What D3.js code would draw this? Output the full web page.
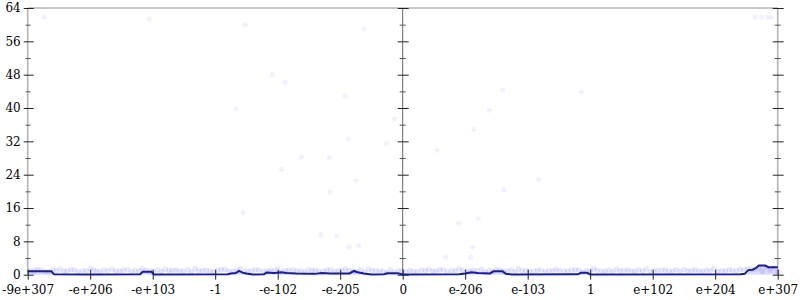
<!DOCTYPE html>
<html><head><meta charset="utf-8">
<script src="https://cdn.jsdelivr.net/npm/d3@7"></script>
<style>body{margin:0;background:#fff}svg{display:block}text{font-family:"DejaVu Serif",serif;font-size:12px;fill:#000}</style>
</head><body>
<svg id="c" width="800" height="300"></svg>
<script>
const yTicks = [0, 8, 16, 24, 32, 40, 48, 56, 64];
const xLabels = ["-9e+307","-e+206","-e+103","-1","-e-102","-e-205","0","e-206","e-103","1","e+102","e+204","e+307"];
// summary line: position (in label units) and value
const lineT = [0,0.38,0.42,1.0,1.8,1.84,1.98,2.02,3.2,3.25,3.33,3.38,3.44,3.5,3.6,3.78,3.82,3.95,4.05,4.15,4.3,4.6,4.7,4.85,5.15,5.22,5.28,5.38,5.5,5.7,5.75,5.92,6.0,6.9,7.0,7.1,7.2,7.4,7.45,7.6,7.65,7.75,8.8,8.85,8.95,9.0,11.4,11.47,11.53,11.6,11.65,11.7,11.8,11.85,12];
const lineV = [0.8,0.8,0.1,0.05,0.1,0.7,0.7,0.05,0.1,0.3,0.4,0.9,0.5,0.3,0.05,0.1,0.5,0.4,0.6,0.4,0.3,0.2,0.4,0.3,0.3,0.9,0.6,0.3,0.05,0.1,0.35,0.35,0.05,0.1,0.3,0.6,0.4,0.3,0.8,0.8,0.2,0.05,0.1,0.45,0.45,0.05,0.1,0.2,1.1,1.2,1.6,2.2,2.2,1.8,1.8];
// scattered samples
const dotT = [0.261,1.945,5.386,11.637,11.744,11.84,11.904,3.477,3.914,4.117,5.082,3.328,5.866,5.13,5.738,4.378,4.826,4.064,5.253,4.837,7.6,8.858,7.386,7.141,6.549,8.176,7.616,3.45,4.693,4.944,5.141,5.296,6.896,7.21,7.12,6.688,7.088];
const dotV = [61.8,61.4,59.0,61.8,61.8,61.8,61.8,60.0,48.0,46.2,42.9,39.8,37.4,32.6,31.5,28.2,28.1,25.3,22.6,19.8,44.3,43.8,39.5,34.8,29.9,22.9,20.4,14.9,9.6,9.3,6.6,7.0,12.4,13.4,6.6,4.2,4.2];
// dense samples near the floor
const bandT = [0.05,0.15,0.27,0.4,0.52,0.63,0.75,0.88,1.0,1.1,1.22,1.35,1.47,1.6,1.72,1.83,1.95,2.08,2.2,2.31,2.43,2.56,2.68,2.8,2.92,3.04,3.16,3.29,3.4,3.52,3.64,3.77,3.88,4.0,4.12,4.25,4.37,4.49,4.6,4.73,4.85,4.97,5.08,5.2,5.33,5.45,5.57,5.69,5.8,5.93,6.05,6.17,6.3,6.42,6.53,6.65,6.78,6.9,7.02,7.13,7.26,7.38,7.5,7.62,7.74,7.85,7.97,8.1,8.22,8.34,8.45,8.58,8.7,8.82,8.94,9.05,9.18,9.3,9.42,9.54,9.66,9.78,9.9,10.02,10.14,10.26,10.38,10.5,10.62,10.74,10.86,10.98,11.1,11.22,11.34,11.46,11.58,11.7,11.82,11.94];
const bandV = [1.0,1.3,0.8,1.1,1.4,0.9,1.2,1.0,1.5,0.8,1.1,1.3,0.9,1.2,1.0,1.4,0.8,1.1,1.3,1.0,0.9,1.2,1.4,1.0,0.8,1.1,1.3,0.9,1.5,1.0,1.2,0.8,1.1,1.4,1.0,1.2,0.9,1.3,1.1,0.8,1.2,1.0,1.4,0.9,1.1,1.3,1.0,0.8,1.2,1.0,0.6,0.8,1.1,1.3,0.9,1.2,1.0,1.4,0.8,1.1,1.3,1.0,1.2,0.9,1.1,1.4,1.0,0.8,1.2,1.0,1.3,0.9,1.1,1.2,1.0,1.4,0.8,1.1,1.3,1.0,0.9,1.2,1.4,1.0,1.1,0.8,1.2,1.3,1.0,0.9,1.1,1.4,1.0,1.2,0.9,1.1,1.3,1.6,1.8,1.7];

const svg = d3.select("#c");
const x = d3.scaleLinear().domain([0, 12]).range([27.7, 777.7]);
const y = d3.scaleLinear().domain([0, 64]).range([274.7, 8]);
const minor = d3.range(4, 64, 8);

// frame
svg.append("line").attr("x1", x(0)).attr("x2", x(12)).attr("y1", y(64)).attr("y2", y(64))
  .attr("stroke", "#b4b4b4").attr("stroke-width", 1.6);
[[0, "#b4b4b4", 1.6], [12, "#b4b4b4", 1.6], [6, "#666", 1]].forEach(([t, c, w]) => {
  svg.append("line").attr("x1", x(t)).attr("x2", x(t)).attr("y1", y(64)).attr("y2", y(0))
    .attr("stroke", c).attr("stroke-width", w);
});
// y ticks on three vertical axes
[[0, -4, 6, -2, 3], [6, -5, 6, -3, 3], [12, -5, 6, -3, 3]].forEach(([t, a, b, ma, mb]) => {
  const g = svg.append("g");
  g.selectAll(".M").data(yTicks).join("line")
    .attr("x1", x(t) + a).attr("x2", x(t) + b).attr("y1", d => y(d) + 0.5).attr("y2", d => y(d) + 0.5)
    .attr("stroke", "#222").attr("stroke-width", 1);
  g.selectAll(".m").data(minor).join("line")
    .attr("x1", x(t) + ma).attr("x2", x(t) + mb).attr("y1", d => y(d) + 0.5).attr("y2", d => y(d) + 0.5)
    .attr("stroke", "#555").attr("stroke-width", 1);
});
// y labels
const ya = d3.axisLeft(y).tickValues(yTicks).tickSize(0).tickPadding(7);
const yg = svg.append("g").attr("transform", `translate(${x(0)},0)`).call(ya);
yg.select(".domain").remove();
yg.selectAll("text").style("font-family", '"DejaVu Serif",serif').style("font-size", "12px").attr("fill", "#000");

// dots
svg.append("g").selectAll("circle").data(dotT.map((t, i) => [t, dotV[i]])).join("circle")
  .attr("cx", d => x(d[0])).attr("cy", d => y(d[1])).attr("r", 2.6)
  .attr("fill", "#0000ff").attr("fill-opacity", 0.055);
svg.append("g").selectAll("circle").data(bandT.map((t, i) => [t, bandV[i]])).join("circle")
  .attr("cx", d => x(d[0])).attr("cy", d => y(d[1])).attr("r", 2.8)
  .attr("fill", "#0000ff").attr("fill-opacity", 0.09);
// extra density for the floor band
svg.append("g").selectAll("circle").data(bandT.map((t, i) => [t + 0.06, bandV[(i + 3) % bandV.length] * 0.8])).join("circle")
  .attr("cx", d => x(d[0])).attr("cy", d => y(d[1])).attr("r", 2.8)
  .attr("fill", "#0000ff").attr("fill-opacity", 0.1);

// area + line
const pts = lineT.map((t, i) => [t, lineV[i]]);
svg.append("path").datum(pts)
  .attr("d", d3.area().x(d => x(d[0])).y0(y(0)).y1(d => y(d[1])))
  .attr("fill", "#4040ff").attr("fill-opacity", 0.18);
svg.append("path").datum(pts)
  .attr("d", d3.line().x(d => x(d[0])).y(d => y(d[1])))
  .attr("fill", "none").attr("stroke", "#1c1c96").attr("stroke-width", 2);

// x axis ticks and labels
const xa = d3.axisBottom(x).tickValues(d3.range(13)).tickFormat(i => xLabels[i]).tickSize(5).tickPadding(6);
const xg = svg.append("g").attr("transform", `translate(0,${y(0)})`).call(xa);
xg.select(".domain").remove();
xg.selectAll(".tick line").attr("y1", -5).attr("y2", 5).attr("stroke", "#222");
xg.selectAll("text").style("font-family", '"DejaVu Serif",serif').style("font-size", "12px").attr("fill", "#000");
</script>
</body></html>
